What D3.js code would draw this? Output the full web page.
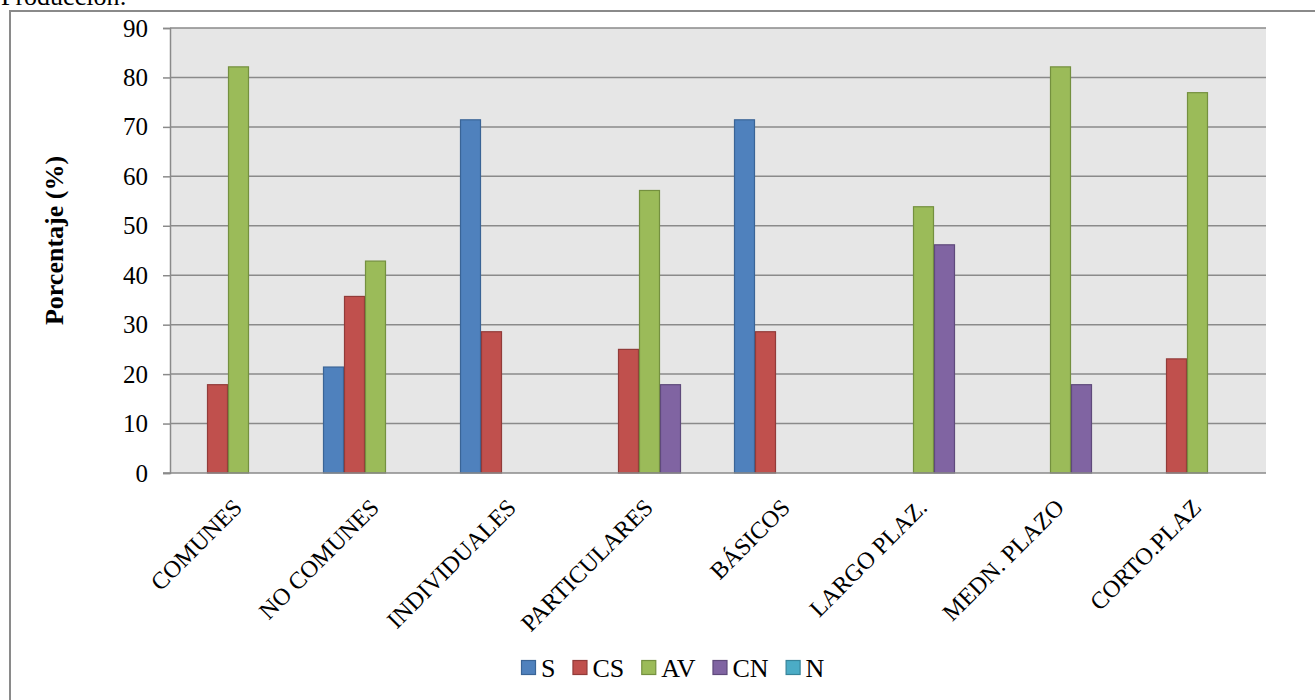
<!DOCTYPE html>
<html>
<head>
<meta charset="utf-8">
<script src="https://cdn.jsdelivr.net/npm/d3@7"></script>
<style>
  html, body { margin: 0; padding: 0; background: #fff; }
  svg { display: block; font-family: "Liberation Serif", "Times New Roman", serif; }
</style>
</head>
<body>
<svg id="chart" width="1315" height="700"></svg>
<script>
// Categories along the x axis
const categories = ["COMUNES", "NO COMUNES", "INDIVIDUALES", "PARTICULARES", "BÁSICOS", "LARGO PLAZ.", "MEDN. PLAZO", "CORTO.PLAZ"];

// Series (percentages per category)
const seriesNames = ["S", "CS", "AV", "CN", "N"];
const valuesS  = [0, 21.43, 71.43, 0, 71.43, 0, 0, 0];
const valuesCS = [17.86, 35.71, 28.57, 25.0, 28.57, 0, 0, 23.08];
const valuesAV = [82.14, 42.86, 0, 57.14, 0, 53.85, 82.14, 76.92];
const valuesCN = [0, 0, 0, 17.86, 0, 46.15, 17.86, 0];
const valuesN  = [0, 0, 0, 0, 0, 0, 0, 0];

// Y axis ticks
const yTicks = [0, 10, 20, 30, 40, 50, 60, 70, 80, 90];

const seriesValues = [valuesS, valuesCS, valuesAV, valuesCN, valuesN];
const fills   = ["#4F81BD", "#C0504D", "#9BBB59", "#8064A2", "#4BACC6"];
const strokes = ["#3A6496", "#923B39", "#74903F", "#5F4A7B", "#37849A"];

const serif = "Liberation Serif, Times New Roman, serif";
const svg = d3.select("#chart");

// Heading line above the frame (only its lower part falls inside the page)
svg.append("text")
  .attr("x", 1).attr("y", 5)
  .attr("font-size", 26)
  .attr("fill", "#000")
  .text("Producción:");

// Outer frame
svg.append("path")
  .attr("d", "M10,700 L10,11 L1315,11")
  .attr("fill", "none")
  .attr("stroke", "#8a8a8a")
  .attr("stroke-width", 2);

const plot = { left: 170, right: 1266, top: 28, bottom: 473 };

const x = d3.scaleBand()
  .domain(categories)
  .range([plot.left, plot.right])
  .paddingInner(0.2336)
  .paddingOuter(0.1168);

const xs = d3.scaleBand()
  .domain(seriesNames)
  .range([0, x.bandwidth()]);

const y = d3.scaleLinear()
  .domain([0, 90])
  .range([plot.bottom, plot.top]);

// Plot background
svg.append("rect")
  .attr("x", plot.left).attr("y", plot.top)
  .attr("width", plot.right - plot.left)
  .attr("height", plot.bottom - plot.top)
  .attr("fill", "#E6E6E6");

// Horizontal gridlines
svg.append("g")
  .selectAll("line")
  .data(yTicks.filter(d => d > 0))
  .join("line")
  .attr("x1", plot.left).attr("x2", plot.right)
  .attr("y1", d => y(d)).attr("y2", d => y(d))
  .attr("stroke", "#8a8a8a")
  .attr("stroke-width", 1.5);

// Y axis
const yAxis = svg.append("g")
  .attr("transform", `translate(${plot.left},0)`)
  .call(d3.axisLeft(y).tickValues(yTicks).tickSize(7).tickPadding(15).tickFormat(d3.format("d")));
yAxis.select(".domain").attr("stroke", "#8a8a8a").attr("stroke-width", 1.5);
yAxis.selectAll(".tick line").attr("stroke", "#8a8a8a").attr("stroke-width", 1.5);
yAxis.selectAll(".tick text")
  .attr("font-family", serif)
  .attr("font-size", 25)
  .attr("fill", "#000");

// Bars
const groups = svg.append("g")
  .selectAll("g")
  .data(categories)
  .join("g")
  .attr("transform", d => `translate(${x(d)},0)`);

groups.selectAll("rect")
  .data((c, i) => seriesNames.map((s, k) => ({ s, k, v: seriesValues[k][i] })).filter(d => d.v > 0))
  .join("rect")
  .attr("x", d => xs(d.s) + 0.5)
  .attr("width", xs.bandwidth() - 1)
  .attr("y", d => y(d.v))
  .attr("height", d => y(0) - y(d.v))
  .attr("fill", d => fills[d.k])
  .attr("stroke", d => strokes[d.k])
  .attr("stroke-width", 1.2);

// X axis line
svg.append("line")
  .attr("x1", plot.left - 7).attr("x2", plot.right)
  .attr("y1", plot.bottom).attr("y2", plot.bottom)
  .attr("stroke", "#8a8a8a")
  .attr("stroke-width", 1.5);

// Rotated category labels
svg.append("g")
  .selectAll("text")
  .data(categories)
  .join("text")
  .attr("transform", d => `translate(${x(d) + x.bandwidth() / 2 + 5},${plot.bottom + 36}) rotate(-45)`)
  .attr("text-anchor", "end")
  .attr("font-size", 24)
  .attr("fill", "#000")
  .text(d => d);

// Y axis title
svg.append("text")
  .attr("transform", `translate(63,${(plot.top + plot.bottom) / 2 - 10}) rotate(-90)`)
  .attr("text-anchor", "middle")
  .attr("font-size", 26)
  .attr("font-weight", "bold")
  .attr("fill", "#000")
  .text("Porcentaje (%)");

// Legend
const legend = svg.append("g").attr("transform", "translate(521,0)");
let lx = 0;
seriesNames.forEach((name, k) => {
  legend.append("rect")
    .attr("x", lx + 0.5).attr("y", 660.5)
    .attr("width", 14).attr("height", 14)
    .attr("fill", fills[k])
    .attr("stroke", strokes[k])
    .attr("stroke-width", 1.2);
  const t = legend.append("text")
    .attr("x", lx + 20).attr("y", 677)
    .attr("font-size", 26)
    .attr("fill", "#000")
    .text(name);
  lx += 20 + t.node().getComputedTextLength() + 17;
});
</script>
</body>
</html>
